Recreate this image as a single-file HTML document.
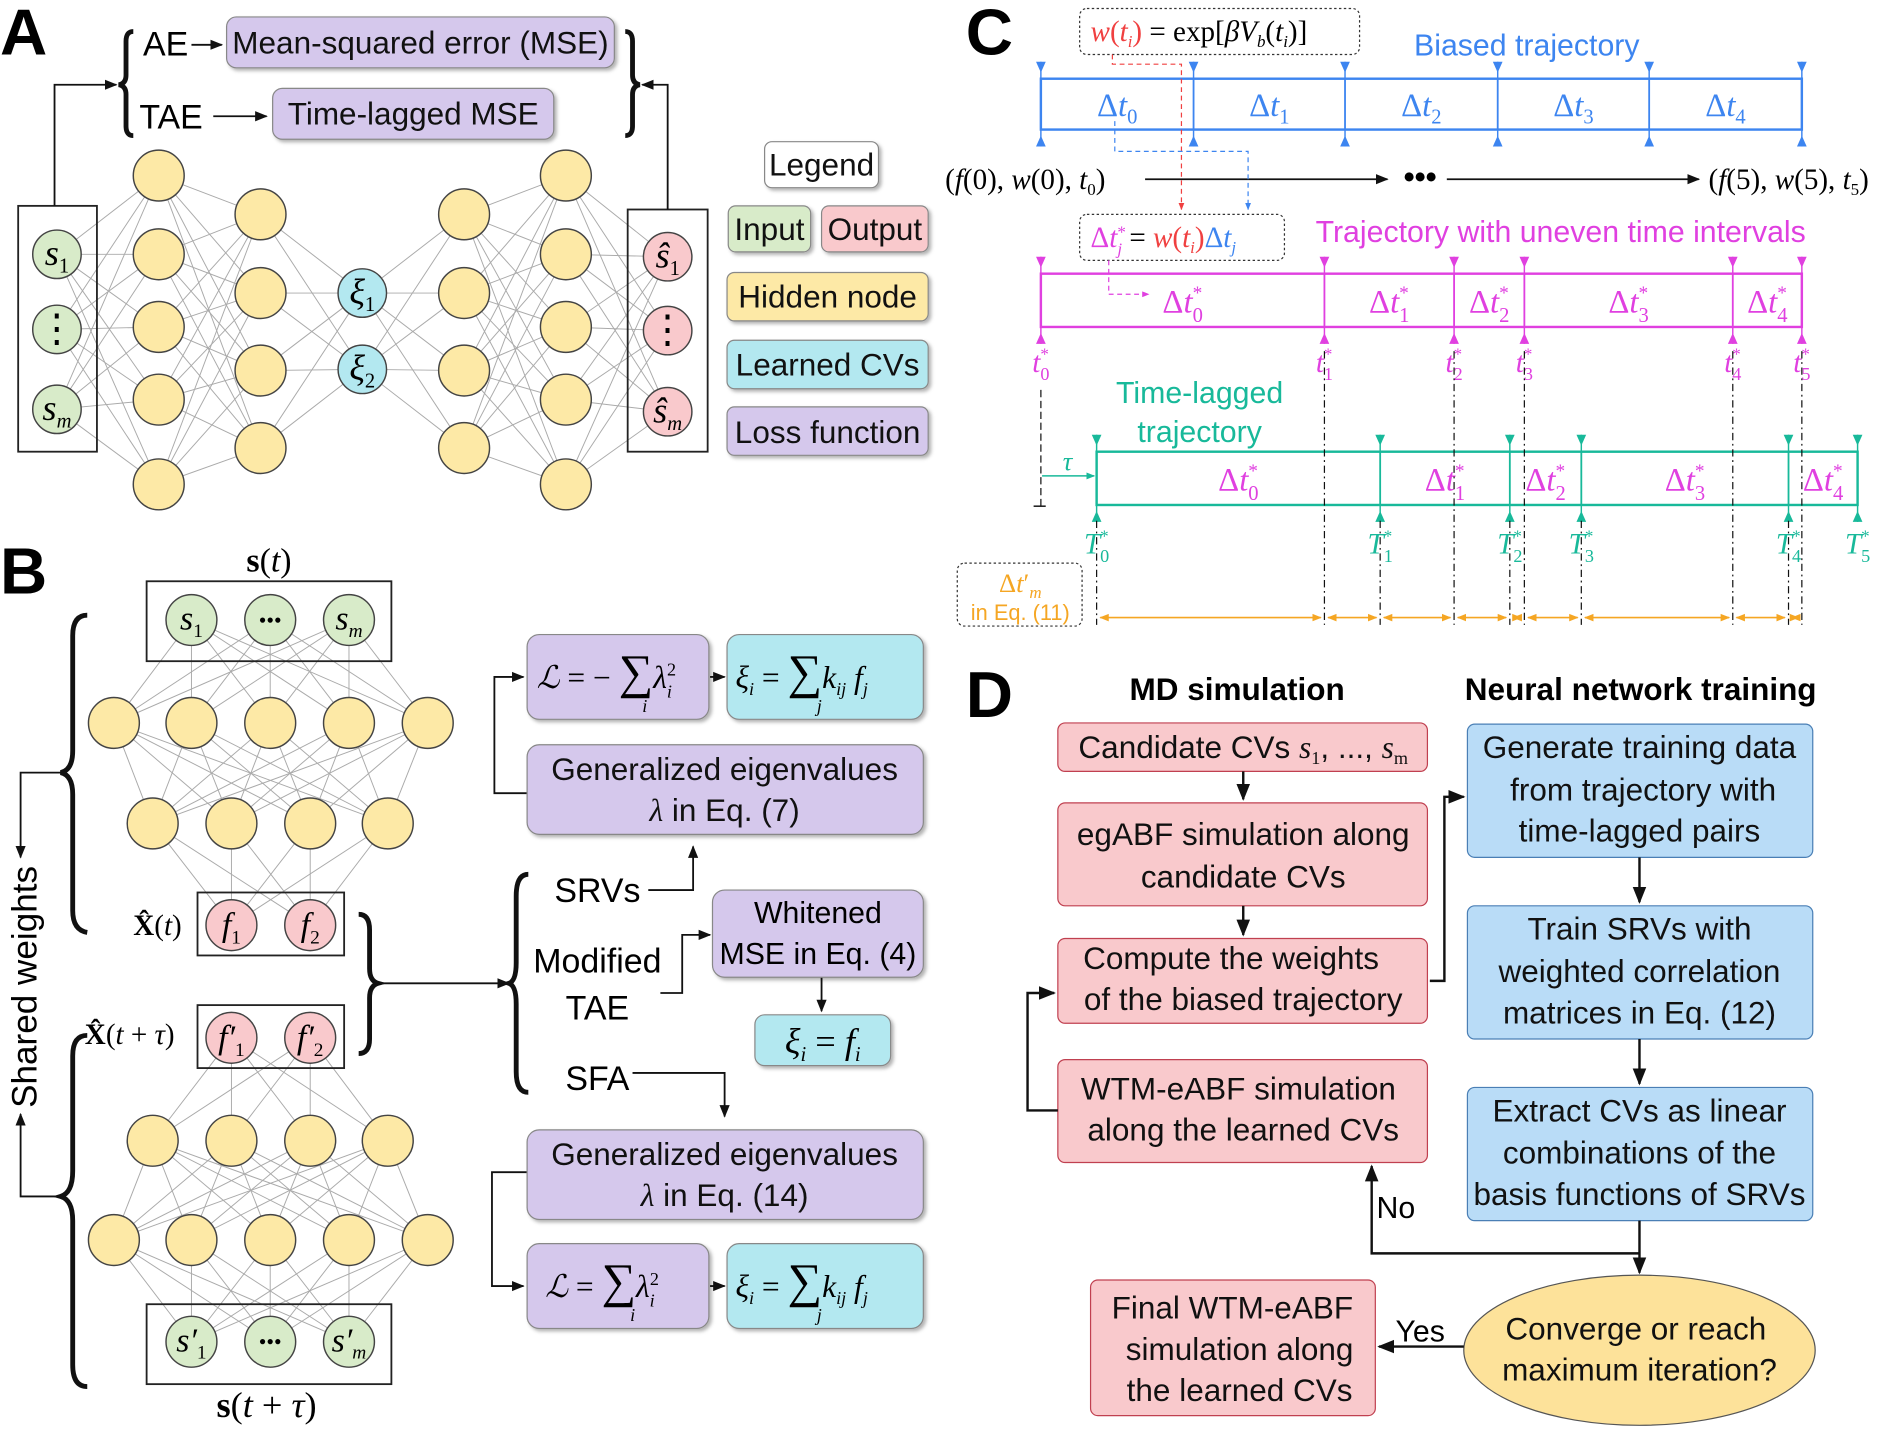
<!DOCTYPE html>
<html><head><meta charset="utf-8"><title>CV learning schematic</title>
<style>
html,body{margin:0;padding:0;background:#fff;}
svg{display:block;}
text{font-family:"Liberation Sans",sans-serif;}
.m{font-family:"Liberation Serif",serif;font-style:italic;}
.r{font-family:"Liberation Serif",serif;}
.bx{font-size:26px;fill:#111;}
</style></head>
<body>
<svg id="fig" width="1900" height="1435" viewBox="0 0 1568 1185" preserveAspectRatio="none" xmlns="http://www.w3.org/2000/svg">
<defs>
<marker id="ah" viewBox="0 0 10 10" refX="9" refY="5" markerWidth="7" markerHeight="7" orient="auto-start-reverse"><path d="M0,1 L10,5 L0,9 z" fill="#111"/></marker>
<marker id="ahO" viewBox="0 0 10 10" refX="9" refY="5" markerWidth="6" markerHeight="6" orient="auto-start-reverse"><path d="M0,1 L10,5 L0,9 z" fill="#f5a623"/></marker>
<marker id="ahT" viewBox="0 0 10 10" refX="9" refY="5" markerWidth="6" markerHeight="6" orient="auto-start-reverse"><path d="M0,1 L10,5 L0,9 z" fill="#18b99a"/></marker>
<marker id="ahM" viewBox="0 0 10 10" refX="9" refY="5" markerWidth="6" markerHeight="6" orient="auto-start-reverse"><path d="M0,1 L10,5 L0,9 z" fill="#e040e0"/></marker>
<marker id="ahR" viewBox="0 0 10 10" refX="9" refY="5" markerWidth="6" markerHeight="6" orient="auto-start-reverse"><path d="M0,1 L10,5 L0,9 z" fill="#f04040"/></marker>
<marker id="ahB" viewBox="0 0 10 10" refX="9" refY="5" markerWidth="6" markerHeight="6" orient="auto-start-reverse"><path d="M0,1 L10,5 L0,9 z" fill="#3d85f0"/></marker>
<filter id="sh" x="-10%" y="-10%" width="130%" height="140%"><feDropShadow dx="2" dy="2" stdDeviation="1.5" flood-color="#000" flood-opacity="0.3"/></filter>
</defs>

<!-- ================= PANEL A ================= -->
<g>
<text x="0" y="45" font-size="54" font-weight="bold">A</text>
<g id="netA"></g>
<rect x="15" y="170" width="65" height="203" fill="none" stroke="#222" stroke-width="1.5"/>
<rect x="518" y="173" width="66" height="200" fill="none" stroke="#222" stroke-width="1.5"/>
<path d="M45,170 V70 H96" fill="none" stroke="#111" stroke-width="1.5" marker-end="url(#ah)"/>
<path d="M551,173 V70 H530" fill="none" stroke="#111" stroke-width="1.5" marker-end="url(#ah)"/>
<path d="M110,26 Q104,26 104,34 V62 Q104,69 98,70 Q104,71 104,78 V104 Q104,112 110,112" fill="none" stroke="#111" stroke-width="4"/>
<path d="M516,26 Q522,26 522,34 V62 Q522,69 528,70 Q522,71 522,78 V104 Q522,112 516,112" fill="none" stroke="#111" stroke-width="4"/>
<text x="118" y="46" font-size="28">AE</text>
<line x1="158" y1="37" x2="183" y2="37" stroke="#111" stroke-width="1.5" marker-end="url(#ah)"/>
<rect x="187" y="14" width="320" height="42" rx="8" fill="#d5c8ec" stroke="#888" filter="url(#sh)"/>
<text x="347" y="44" text-anchor="middle" class="bx">Mean-squared error (MSE)</text>
<text x="115" y="106" font-size="28">TAE</text>
<line x1="176" y1="96" x2="220" y2="96" stroke="#111" stroke-width="1.5" marker-end="url(#ah)"/>
<rect x="225" y="73" width="232" height="42" rx="8" fill="#d5c8ec" stroke="#888" filter="url(#sh)"/>
<text x="341" y="103" text-anchor="middle" class="bx">Time-lagged MSE</text>
<!-- legend -->
<g>
<rect x="631" y="117" width="94" height="38" rx="6" fill="#fff" stroke="#888" filter="url(#sh)"/>
<text x="678" y="145" text-anchor="middle" class="bx">Legend</text>
<rect x="601" y="170" width="68" height="38" rx="6" fill="#d8ebc9" stroke="#888" filter="url(#sh)"/>
<text x="635" y="198" text-anchor="middle" class="bx">Input</text>
<rect x="678" y="170" width="88" height="38" rx="6" fill="#f9c9cc" stroke="#888" filter="url(#sh)"/>
<text x="722" y="198" text-anchor="middle" class="bx">Output</text>
<rect x="600" y="225" width="166" height="40" rx="6" fill="#fde9a6" stroke="#888" filter="url(#sh)"/>
<text x="683" y="254" text-anchor="middle" class="bx">Hidden node</text>
<rect x="600" y="281" width="166" height="40" rx="6" fill="#b3e8f0" stroke="#888" filter="url(#sh)"/>
<text x="683" y="310" text-anchor="middle" class="bx">Learned CVs</text>
<rect x="600" y="336" width="166" height="40" rx="6" fill="#d5c8ec" stroke="#888" filter="url(#sh)"/>
<text x="683" y="366" text-anchor="middle" class="bx">Loss function</text>
</g>
</g>

<!-- ================= PANEL B ================= -->
<g>
<text x="0" y="490" font-size="54" font-weight="bold">B</text>
<text x="222" y="472" text-anchor="middle" font-size="28" class="r"><tspan font-weight="bold" font-style="normal">s</tspan>(<tspan font-style="italic">t</tspan>)</text>
<g id="netB"></g>
<rect x="121" y="480" width="202" height="66" fill="none" stroke="#222" stroke-width="1.5"/>
<rect x="163" y="737" width="121" height="52" fill="none" stroke="#222" stroke-width="1.5"/>
<rect x="163" y="830" width="121" height="52" fill="none" stroke="#222" stroke-width="1.5"/>
<rect x="121" y="1077" width="202" height="66" fill="none" stroke="#222" stroke-width="1.5"/>
<text x="110" y="772" font-size="24" class="r"><tspan font-weight="bold">X̂</tspan>(<tspan font-style="italic">t</tspan>)</text>
<text x="70" y="862" font-size="24" class="r"><tspan font-weight="bold">X̂</tspan>(<tspan font-style="italic">t</tspan> + <tspan font-style="italic">τ</tspan>)</text>
<text x="220" y="1170" text-anchor="middle" font-size="30" class="r"><tspan font-weight="bold">s</tspan>(<tspan font-style="italic">t</tspan> + <tspan font-style="italic">τ</tspan>)</text>
<!-- braces -->
<path d="M72,508 Q60,508 60,525 V620 Q60,636 50,638 Q60,640 60,656 V752 Q60,768 72,770" fill="none" stroke="#111" stroke-width="4"/>
<path d="M72,855 Q60,855 60,872 V967 Q60,985 50,988 Q60,991 60,1008 V1127 Q60,1145 72,1145" fill="none" stroke="#111" stroke-width="4"/>
<path d="M50,638 H17 V708" fill="none" stroke="#111" stroke-width="1.5" marker-end="url(#ah)"/>
<path d="M50,988 H17 V920" fill="none" stroke="#111" stroke-width="1.5" marker-end="url(#ah)"/>
<text transform="translate(30,815) rotate(-90)" text-anchor="middle" font-size="29">Shared weights</text>
<path d="M296,755 Q305,755 305,768 V800 Q305,810 312,812 Q305,814 305,824 V858 Q305,870 296,870" fill="none" stroke="#111" stroke-width="4"/>
<line x1="312" y1="812" x2="420" y2="812" stroke="#111" stroke-width="1.5" marker-end="url(#ah)"/>
<path d="M436,722 Q426,722 426,740 V795 Q426,810 420,812 Q426,814 426,829 V885 Q426,902 436,902" fill="none" stroke="#111" stroke-width="4"/>
<text x="493" y="745" text-anchor="middle" font-size="28">SRVs</text>
<text x="493" y="803" text-anchor="middle" font-size="28">Modified</text>
<text x="493" y="842" text-anchor="middle" font-size="28">TAE</text>
<text x="493" y="900" text-anchor="middle" font-size="28">SFA</text>
<path d="M535,735 H572 V699" fill="none" stroke="#111" stroke-width="1.5" marker-end="url(#ah)"/>
<path d="M545,820 H563 V772 H586" fill="none" stroke="#111" stroke-width="1.5" marker-end="url(#ah)"/>
<path d="M522,886 H598 V922" fill="none" stroke="#111" stroke-width="1.5" marker-end="url(#ah)"/>
<path d="M435,655 H408 V559 H432" fill="none" stroke="#111" stroke-width="1.5" marker-end="url(#ah)"/>
<path d="M435,968 H406 V1062 H432" fill="none" stroke="#111" stroke-width="1.5" marker-end="url(#ah)"/>
<line x1="586" y1="559" x2="598" y2="559" stroke="#111" stroke-width="1.5" marker-end="url(#ah)"/>
<line x1="586" y1="1062" x2="598" y2="1062" stroke="#111" stroke-width="1.5" marker-end="url(#ah)"/>
<line x1="678" y1="807" x2="678" y2="835" stroke="#111" stroke-width="1.5" marker-end="url(#ah)"/>
<!-- boxes -->
<rect x="435" y="524" width="150" height="70" rx="10" fill="#d5c8ec" stroke="#888" filter="url(#sh)"/>
<text x="443" y="568" font-size="26" class="r"><tspan font-style="italic">ℒ</tspan> = − <tspan font-size="40">∑</tspan><tspan font-style="italic">λ</tspan><tspan font-size="15" dy="8" font-style="italic">i</tspan><tspan font-size="15" dx="-4" dy="-18">2</tspan></text>
<text x="530" y="588" font-size="15" class="m">i</text>
<rect x="600" y="524" width="162" height="70" rx="10" fill="#b3e8f0" stroke="#888" filter="url(#sh)"/>
<text x="607" y="568" font-size="26" class="r"><tspan font-style="italic">ξ</tspan><tspan font-size="15" dy="6" font-style="italic">i</tspan><tspan dy="-6"> = </tspan><tspan font-size="40">∑</tspan><tspan font-style="italic">k</tspan><tspan font-size="15" dy="6" font-style="italic">ij</tspan><tspan dy="-6" font-style="italic"> f</tspan><tspan font-size="15" dy="6" font-style="italic">j</tspan></text>
<text x="674" y="588" font-size="15" class="m">j</text>
<rect x="435" y="615" width="327" height="74" rx="10" fill="#d5c8ec" stroke="#888" filter="url(#sh)"/>
<text x="598" y="644" text-anchor="middle" class="bx">Generalized eigenvalues</text>
<text x="598" y="678" text-anchor="middle" class="bx"><tspan class="m">λ</tspan> in Eq. (7)</text>
<rect x="588" y="735" width="174" height="72" rx="10" fill="#d5c8ec" stroke="#888" filter="url(#sh)"/>
<text x="675" y="762" text-anchor="middle" font-size="25">Whitened</text>
<text x="675" y="796" text-anchor="middle" font-size="25">MSE in Eq. (4)</text>
<rect x="623" y="838" width="112" height="42" rx="8" fill="#b3e8f0" stroke="#888" filter="url(#sh)"/>
<text x="679" y="870" text-anchor="middle" font-size="30" class="m">ξ<tspan font-size="17" dy="6">i</tspan><tspan dy="-6" font-style="normal"> = </tspan>f<tspan font-size="17" dy="6">i</tspan></text>
<rect x="435" y="933" width="327" height="74" rx="10" fill="#d5c8ec" stroke="#888" filter="url(#sh)"/>
<text x="598" y="962" text-anchor="middle" class="bx">Generalized eigenvalues</text>
<text x="598" y="996" text-anchor="middle" class="bx"><tspan class="m">λ</tspan> in Eq. (14)</text>
<rect x="435" y="1027" width="150" height="70" rx="10" fill="#d5c8ec" stroke="#888" filter="url(#sh)"/>
<text x="450" y="1071" font-size="26" class="r"><tspan font-style="italic">ℒ</tspan> = <tspan font-size="40">∑</tspan><tspan font-style="italic">λ</tspan><tspan font-size="15" dy="8" font-style="italic">i</tspan><tspan font-size="15" dx="-4" dy="-18">2</tspan></text>
<text x="520" y="1091" font-size="15" class="m">i</text>
<rect x="600" y="1027" width="162" height="70" rx="10" fill="#b3e8f0" stroke="#888" filter="url(#sh)"/>
<text x="607" y="1071" font-size="26" class="r"><tspan font-style="italic">ξ</tspan><tspan font-size="15" dy="6" font-style="italic">i</tspan><tspan dy="-6"> = </tspan><tspan font-size="40">∑</tspan><tspan font-style="italic">k</tspan><tspan font-size="15" dy="6" font-style="italic">ij</tspan><tspan dy="-6" font-style="italic"> f</tspan><tspan font-size="15" dy="6" font-style="italic">j</tspan></text>
<text x="674" y="1091" font-size="15" class="m">j</text>
</g>

<!-- ================= PANEL C ================= -->
<g id="panelC">
<text x="797" y="45" font-size="54" font-weight="bold">C</text>
<rect x="891" y="7" width="231" height="38" rx="6" fill="none" stroke="#333" stroke-dasharray="2,2"/>
<text x="900" y="34" font-size="24" class="r"><tspan fill="#f04040" font-style="italic">w</tspan><tspan fill="#f04040">(</tspan><tspan fill="#f04040" font-style="italic">t<tspan font-size="14" dy="5">i</tspan></tspan><tspan fill="#f04040" dy="-5">)</tspan> = exp[<tspan font-style="italic">βV<tspan font-size="14" dy="5">b</tspan></tspan><tspan dy="-5">(</tspan><tspan font-style="italic">t<tspan font-size="14" dy="5">i</tspan></tspan><tspan dy="-5">)]</tspan></text>
<text x="1260" y="46" text-anchor="middle" font-size="25" fill="#3d85f0">Biased trajectory</text>
<g id="biased"></g>
<text x="780" y="156" font-size="24" class="r">(<tspan font-style="italic">f</tspan>(0), <tspan font-style="italic">w</tspan>(0), <tspan font-style="italic">t</tspan><tspan font-size="14" dy="5">0</tspan><tspan dy="-5">)</tspan></text>
<line x1="945" y1="148" x2="1145" y2="148" stroke="#111" stroke-width="1.5" marker-end="url(#ah)"/>
<text x="1172" y="155" text-anchor="middle" font-size="26" font-weight="bold">•••</text>
<line x1="1194" y1="148" x2="1402" y2="148" stroke="#111" stroke-width="1.5" marker-end="url(#ah)"/>
<text x="1410" y="156" font-size="24" class="r">(<tspan font-style="italic">f</tspan>(5), <tspan font-style="italic">w</tspan>(5), <tspan font-style="italic">t</tspan><tspan font-size="14" dy="5">5</tspan><tspan dy="-5">)</tspan></text>
<rect x="891" y="177" width="169" height="38" rx="6" fill="none" stroke="#333" stroke-dasharray="2,2"/>
<text x="900" y="204" font-size="24" class="r"><tspan fill="#e040e0">Δ<tspan font-style="italic">t</tspan></tspan><tspan fill="#e040e0" font-size="14" dy="-8">*</tspan><tspan fill="#e040e0" font-size="14" dx="-7" dy="14" font-style="italic">j</tspan><tspan dy="-6"> = </tspan><tspan fill="#f04040" font-style="italic">w</tspan><tspan fill="#f04040">(<tspan font-style="italic">t</tspan></tspan><tspan fill="#f04040" font-size="14" dy="5" font-style="italic">i</tspan><tspan fill="#f04040" dy="-5">)</tspan><tspan fill="#3d85f0">Δ<tspan font-style="italic">t</tspan></tspan><tspan fill="#3d85f0" font-size="14" dy="5" font-style="italic">j</tspan></text>
<path d="M918,45 V53 H975 V173" fill="none" stroke="#f04040" stroke-width="1" stroke-dasharray="4,3" marker-end="url(#ahR)"/>
<path d="M920,100 V125 H1030 V173" fill="none" stroke="#3d85f0" stroke-width="1" stroke-dasharray="4,3" marker-end="url(#ahB)"/>
<text x="1288" y="200" text-anchor="middle" font-size="25" fill="#e040e0">Trajectory with uneven time intervals</text>
<path d="M915,215 V243 H948" fill="none" stroke="#e040e0" stroke-width="1" stroke-dasharray="4,3" marker-end="url(#ahM)"/>
<g id="uneven"></g>
<text x="990" y="333" text-anchor="middle" font-size="25" fill="#18b99a">Time-lagged</text>
<text x="990" y="365" text-anchor="middle" font-size="25" fill="#18b99a">trajectory</text>
<line x1="859" y1="322" x2="859" y2="418" stroke="#111" stroke-width="1" stroke-dasharray="6,3"/>
<line x1="853" y1="418" x2="863" y2="418" stroke="#111" stroke-width="1.2"/>
<line x1="860" y1="393" x2="903" y2="393" stroke="#18b99a" stroke-width="1.2" marker-end="url(#ahT)"/>
<text x="881" y="388" text-anchor="middle" font-size="22" class="m" fill="#18b99a">τ</text>
<g id="lagged"></g>
<rect x="790" y="465" width="103" height="52" rx="6" fill="none" stroke="#333" stroke-dasharray="2,2"/>
<text x="842" y="489" text-anchor="middle" font-size="22" class="r" fill="#f5a623">Δ<tspan font-style="italic">t</tspan>′<tspan font-size="14" dy="5" font-style="italic">m</tspan></text>
<text x="842" y="512" text-anchor="middle" font-size="18" fill="#f5a623">in Eq. (11)</text>
<g id="orange"></g>
</g>

<!-- ================= PANEL D ================= -->
<g>
<text x="797" y="592" font-size="54" font-weight="bold">D</text>
<text x="1021" y="578" text-anchor="middle" font-size="26" font-weight="bold">MD simulation</text>
<text x="1354" y="578" text-anchor="middle" font-size="26" font-weight="bold">Neural network training</text>
<rect x="873" y="597" width="305" height="40" rx="6" fill="#f9c9cc" stroke="#c04050"/>
<text x="1026" y="626" text-anchor="middle" class="bx">Candidate CVs <tspan class="m">s</tspan><tspan class="r" font-size="15" dy="5">1</tspan><tspan dy="-5">, ..., </tspan><tspan class="m">s</tspan><tspan class="r" font-size="15" dy="5">m</tspan></text>
<rect x="873" y="663" width="305" height="85" rx="6" fill="#f9c9cc" stroke="#c04050"/>
<text x="1026" y="698" text-anchor="middle" class="bx">egABF simulation along</text>
<text x="1026" y="733" text-anchor="middle" class="bx">candidate CVs</text>
<rect x="873" y="775" width="305" height="70" rx="6" fill="#f9c9cc" stroke="#c04050"/>
<text x="1016" y="800" text-anchor="middle" class="bx">Compute the weights</text>
<text x="1026" y="834" text-anchor="middle" class="bx">of the biased trajectory</text>
<rect x="873" y="875" width="305" height="85" rx="6" fill="#f9c9cc" stroke="#c04050"/>
<text x="1022" y="908" text-anchor="middle" class="bx">WTM-eABF simulation</text>
<text x="1026" y="942" text-anchor="middle" class="bx">along the learned CVs</text>
<rect x="900" y="1057" width="235" height="112" rx="6" fill="#f9c9cc" stroke="#c04050"/>
<text x="1017" y="1089" text-anchor="middle" class="bx">Final WTM-eABF</text>
<text x="1023" y="1123" text-anchor="middle" class="bx">simulation along</text>
<text x="1023" y="1157" text-anchor="middle" class="bx">the learned CVs</text>
<rect x="1211" y="598" width="285" height="110" rx="6" fill="#b9dcf7" stroke="#4a7fb5"/>
<text x="1353" y="626" text-anchor="middle" class="bx">Generate training data</text>
<text x="1356" y="661" text-anchor="middle" class="bx">from trajectory with</text>
<text x="1353" y="695" text-anchor="middle" class="bx">time-lagged pairs</text>
<rect x="1211" y="748" width="285" height="110" rx="6" fill="#b9dcf7" stroke="#4a7fb5"/>
<text x="1353" y="776" text-anchor="middle" class="bx">Train SRVs with</text>
<text x="1353" y="811" text-anchor="middle" class="bx">weighted correlation</text>
<text x="1353" y="845" text-anchor="middle" class="bx">matrices in Eq. (12)</text>
<rect x="1211" y="898" width="285" height="110" rx="6" fill="#b9dcf7" stroke="#4a7fb5"/>
<text x="1353" y="926" text-anchor="middle" class="bx">Extract CVs as linear</text>
<text x="1353" y="961" text-anchor="middle" class="bx">combinations of the</text>
<text x="1353" y="995" text-anchor="middle" class="bx">basis functions of SRVs</text>
<ellipse cx="1353" cy="1115" rx="145" ry="62" fill="#fde29a" stroke="#555"/>
<text x="1350" y="1106" text-anchor="middle" class="bx">Converge or reach</text>
<text x="1353" y="1140" text-anchor="middle" class="bx">maximum iteration?</text>
<line x1="1026" y1="637" x2="1026" y2="660" stroke="#111" stroke-width="2" marker-end="url(#ah)"/>
<line x1="1026" y1="748" x2="1026" y2="772" stroke="#111" stroke-width="2" marker-end="url(#ah)"/>
<path d="M1180,810 H1192 V658 H1208" fill="none" stroke="#111" stroke-width="2" marker-end="url(#ah)"/>
<line x1="1353" y1="708" x2="1353" y2="745" stroke="#111" stroke-width="2" marker-end="url(#ah)"/>
<line x1="1353" y1="858" x2="1353" y2="895" stroke="#111" stroke-width="2" marker-end="url(#ah)"/>
<line x1="1353" y1="1008" x2="1353" y2="1051" stroke="#111" stroke-width="2" marker-end="url(#ah)"/>
<path d="M1353,1035 H1132 V963" fill="none" stroke="#111" stroke-width="2" marker-end="url(#ah)"/>
<text x="1152" y="1006" text-anchor="middle" font-size="25">No</text>
<line x1="1208" y1="1112" x2="1138" y2="1112" stroke="#111" stroke-width="2" marker-end="url(#ah)"/>
<text x="1172" y="1108" text-anchor="middle" font-size="25">Yes</text>
<path d="M873,917 H848 V820 H870" fill="none" stroke="#111" stroke-width="2" marker-end="url(#ah)"/>
</g>
</svg>
<script>
var NS = "http://www.w3.org/2000/svg";
function mk(tag, parent, attrs) {
  var e = document.createElementNS(NS, tag);
  for (var k in attrs) e.setAttribute(k, attrs[k]);
  parent.appendChild(e);
  return e;
}
// ---- Panel A network ----
var layersA = [
  {x:47, ys:[210,272,338], r:20, fill:"#d8ebc9"},
  {x:131, ys:[145,210,270,330,400], r:21, fill:"#fde9a6"},
  {x:215, ys:[177,242,306,370], r:21, fill:"#fde9a6"},
  {x:299, ys:[242,305], r:20, fill:"#b3e8f0"},
  {x:383, ys:[177,242,306,370], r:21, fill:"#fde9a6"},
  {x:467, ys:[145,210,270,330,400], r:21, fill:"#fde9a6"},
  {x:551, ys:[212,273,340], r:20, fill:"#f9c9cc"}
];
var gA = document.getElementById("netA");
function drawNet(g, layers) {
  for (var i = 0; i < layers.length - 1; i++) {
    var p1 = layers[i].pts, p2 = layers[i+1].pts;
    for (var a = 0; a < p1.length; a++) for (var b = 0; b < p2.length; b++) {
      var ln = mk("line", g, {x1:p1[a][0], y1:p1[a][1], x2:p2[b][0], y2:p2[b][1], stroke:"#aaa", "stroke-width":0.8});
      
      
    }
  }
  layers.forEach(function(L) {
    L.pts.forEach(function(p) {
      var c = mk("circle", g, {cx:p[0], cy:p[1], r:L.r, fill:L.fill, stroke:"#444", "stroke-width":1.2});
      
      
    });
  });
}
layersA.forEach(function(L){ L.pts = L.ys.map(function(y){return [L.x,y];}); });
drawNet(gA, layersA);
function label(g, x, y, html, size) {
  var t = mk("text", g, {x:x, y:y, "text-anchor":"middle", "font-size":size||26, "class":"r"});
  t.innerHTML = html;
  
  
  return t;
}
label(gA, 47, 219, '<tspan font-style="italic">s</tspan><tspan font-size="17" dy="6">1</tspan>', 30);
label(gA, 47, 282, '⋮', 32);
label(gA, 47, 347, '<tspan font-style="italic">s</tspan><tspan font-size="17" dy="6" font-style="italic">m</tspan>', 30);
label(gA, 299, 251, '<tspan font-style="italic">ξ</tspan><tspan font-size="17" dy="6">1</tspan>', 30);
label(gA, 299, 314, '<tspan font-style="italic">ξ</tspan><tspan font-size="17" dy="6">2</tspan>', 30);
label(gA, 551, 221, '<tspan font-style="italic">ŝ</tspan><tspan font-size="17" dy="6">1</tspan>', 30);
label(gA, 551, 283, '⋮', 32);
label(gA, 551, 349, '<tspan font-style="italic">ŝ</tspan><tspan font-size="17" dy="6" font-style="italic">m</tspan>', 30);

// ---- Panel B network ----
var gB = document.getElementById("netB");
function row(y, xs, r, fill) { return {pts: xs.map(function(x){return [x,y];}), r:r, fill:fill}; }
var topNet = [
  row(512, [158,223,288], 21, "#d8ebc9"),
  row(597, [94,158,223,288,353], 21, "#fde9a6"),
  row(680, [126,191,256,320], 21, "#fde9a6"),
  row(764, [191,256], 21, "#f9c9cc")
];
var botNet = [
  row(857, [191,256], 21, "#f9c9cc"),
  row(942, [126,191,256,320], 21, "#fde9a6"),
  row(1024, [94,158,223,288,353], 21, "#fde9a6"),
  row(1108, [158,223,288], 21, "#d8ebc9")
];
drawNet(gB, topNet);
drawNet(gB, botNet);
label(gB, 158, 520, '<tspan font-style="italic">s</tspan><tspan font-size="16" dy="6">1</tspan>', 28);
label(gB, 223, 518, '•••', 18);
label(gB, 288, 520, '<tspan font-style="italic">s</tspan><tspan font-size="16" dy="6" font-style="italic">m</tspan>', 28);
label(gB, 191, 773, '<tspan font-style="italic">f</tspan><tspan font-size="16" dy="6">1</tspan>', 28);
label(gB, 256, 773, '<tspan font-style="italic">f</tspan><tspan font-size="16" dy="6">2</tspan>', 28);
label(gB, 191, 866, '<tspan font-style="italic">f′</tspan><tspan font-size="16" dy="6">1</tspan>', 28);
label(gB, 256, 866, '<tspan font-style="italic">f′</tspan><tspan font-size="16" dy="6">2</tspan>', 28);
label(gB, 158, 1116, '<tspan font-style="italic">s′</tspan><tspan font-size="16" dy="6">1</tspan>', 28);
label(gB, 223, 1114, '•••', 18);
label(gB, 288, 1116, '<tspan font-style="italic">s′</tspan><tspan font-size="16" dy="6" font-style="italic">m</tspan>', 28);

// ---- Panel C bands ----
function band(id, x0, x1, y, h, bounds, color, plainLab, labColor, tickLabel, tickY, tickLetter) {
  var g = document.getElementById(id);
  var r = mk("rect", g, {x:x0, y:y, width:x1-x0, height:h, fill:"none", stroke:color, "stroke-width":2});
  
  
  for (var i = 0; i < bounds.length; i++) {
    var bx = bounds[i];
    var d = mk("line", g, {x1:bx, y1:y, x2:bx, y2:y+h, stroke:color, "stroke-width":1.5});
    
    
    var t1 = mk("path", g, {d:"M"+(bx-4)+","+(y-14)+" L"+(bx+4)+","+(y-14)+" L"+bx+","+(y-5)+" z", fill:color});
    
    
    mk("line", g, {x1:bx, y1:y-14, x2:bx, y2:y, stroke:color, "stroke-width":1.2});
    var t2 = mk("path", g, {d:"M"+(bx-4)+","+(y+h+14)+" L"+(bx+4)+","+(y+h+14)+" L"+bx+","+(y+h+5)+" z", fill:color});
    
    
    mk("line", g, {x1:bx, y1:y+h, x2:bx, y2:y+h+14, stroke:color, "stroke-width":1.2});
    if (tickLabel) {
      var tl = mk("text", g, {x:bx, y:tickY, "text-anchor":"middle", "font-size":24, "class":"r", fill:color});
      tl.innerHTML = '<tspan font-style="italic">'+tickLetter+'</tspan><tspan font-size="14" dy="-10">*</tspan><tspan font-size="15" dx="-7" dy="17">'+i+'</tspan>';
      
      
    }
    if (i < bounds.length - 1) {
      var cx = (bx + bounds[i+1]) / 2;
      var t = mk("text", g, {x:cx, y:y+h/2+10, "text-anchor":"middle", "font-size":27, "class":"r", fill:labColor});
      t.innerHTML = plainLab ? 'Δ<tspan font-style="italic">t</tspan><tspan font-size="17" dy="6">'+i+'</tspan>'
                        : 'Δ<tspan font-style="italic">t</tspan><tspan font-size="16" dy="-11">*</tspan><tspan font-size="17" dx="-8" dy="19">'+i+'</tspan>';
      
      
    }
  }
}
band("biased", 859, 1487, 65, 42, [859,985,1110,1236,1361,1487], "#3d85f0", true, "#3d85f0", false);
band("uneven", 859, 1487, 226, 44, [859,1093,1200,1258,1430,1487], "#e040e0", false, "#e040e0", true, 307, "t");
band("lagged", 905, 1533, 373, 44, [905,1139,1246,1305,1476,1533], "#18b99a", false, "#e040e0", true, 457, "T");
var gO = document.getElementById("orange");
[1093,1200,1258,1430,1487].forEach(function(x){
  var l = mk("line", gO, {x1:x, y1:290, x2:x, y2:516, stroke:"#111", "stroke-width":1, "stroke-dasharray":"6,3,1.5,3"});
  
  
});
[905,1139,1246,1305,1476].forEach(function(x){
  var l = mk("line", gO, {x1:x, y1:430, x2:x, y2:516, stroke:"#111", "stroke-width":1, "stroke-dasharray":"6,3,1.5,3"});
  
  
});
var obs = [905,1093,1139,1200,1246,1258,1305,1430,1476,1487];
for (var i = 0; i < obs.length - 1; i++) {
  var a = mk("line", gO, {x1:obs[i]+3, y1:510, x2:obs[i+1]-3, y2:510, stroke:"#f5a623", "stroke-width":1.3, "marker-start":"url(#ahO)", "marker-end":"url(#ahO)"});
  
  
}
</script>
</body></html>
